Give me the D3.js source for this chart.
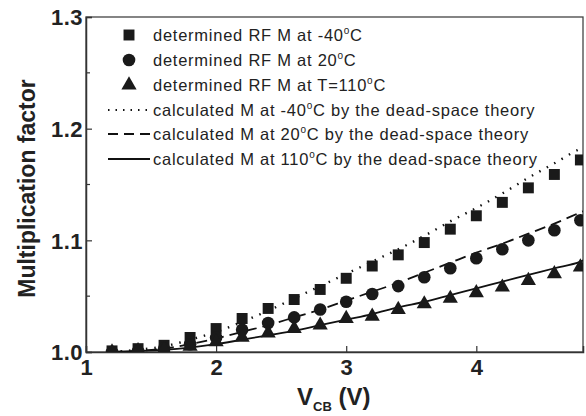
<!DOCTYPE html>
<html>
<head>
<meta charset="utf-8">
<script src="https://cdn.jsdelivr.net/npm/d3@7"></script>
<style>
  body { margin: 0; background: #fff; }
  text { font-family: "Liberation Sans", Arial, sans-serif; fill: #222; }
</style>
</head>
<body>
<div id="chart"></div>
<script>
const width = 586
const height = 416
const margin = { top: 17, bottom: 64, left: 86, right: 3 }

// datos
const vcb = [1.2, 1.4, 1.6, 1.8, 2.0, 2.2, 2.4, 2.6, 2.8, 3.0, 3.2, 3.4, 3.6, 3.8, 4.0, 4.2, 4.4, 4.6, 4.8]
const mMinus40 = [1.001, 1.003, 1.006, 1.013, 1.021, 1.030, 1.039, 1.047, 1.056, 1.066, 1.077, 1.087, 1.098, 1.110, 1.122, 1.134, 1.147, 1.159, 1.172]
const m20 = [1.000, 1.001, 1.003, 1.007, 1.013, 1.020, 1.026, 1.031, 1.038, 1.045, 1.052, 1.059, 1.067, 1.075, 1.084, 1.092, 1.100, 1.109, 1.118]
const m110 = [1.000, 1.001, 1.002, 1.005, 1.009, 1.013, 1.017, 1.021, 1.024, 1.030, 1.032, 1.038, 1.043, 1.048, 1.053, 1.058, 1.064, 1.070, 1.076]

const vcbCalc = [1.2, 1.4, 1.6, 1.8, 2.0, 2.2, 2.4, 2.6, 2.8, 3.0, 3.2, 3.4, 3.6, 3.8, 4.0, 4.2, 4.4, 4.6, 4.8, 4.82]
const calcMinus40 = [1.000, 1.002, 1.005, 1.011, 1.018, 1.027, 1.037, 1.048, 1.059, 1.070, 1.081, 1.092, 1.104, 1.117, 1.129, 1.142, 1.156, 1.169, 1.182, 1.183]
const calc20 = [1.000, 1.001, 1.003, 1.007, 1.012, 1.018, 1.024, 1.031, 1.038, 1.046, 1.054, 1.062, 1.071, 1.080, 1.089, 1.097, 1.106, 1.115, 1.125, 1.126]
const calc110 = [1.000, 1.001, 1.002, 1.004, 1.007, 1.011, 1.015, 1.019, 1.024, 1.029, 1.034, 1.040, 1.045, 1.051, 1.057, 1.063, 1.069, 1.075, 1.081, 1.082]

const xTicks = [1, 2, 3, 4]
const yTicks = [1.0, 1.1, 1.2, 1.3]
const yMinor = [1.05, 1.15, 1.25]

const legendLabels = [
  "determined RF M at -40|C",
  "determined RF M at 20|C",
  "determined RF M at T=110|C",
  "calculated M at -40|C by the dead-space theory",
  "calculated M at 20|C by the dead-space theory",
  "calculated M at 110|C by the dead-space theory"
]

const svg = d3.select("#chart").append("svg")
  .attr("width", width)
  .attr("height", height)

const w = width - margin.left - margin.right
const h = height - margin.top - margin.bottom

const x = d3.scaleLinear().domain([1, 4.82]).range([0, w])
const y = d3.scaleLinear().domain([1.0, 1.3]).range([h, 0])

const g = svg.append("g").attr("transform", `translate(${margin.left}, ${margin.top})`)

svg.append("defs").append("clipPath").attr("id", "clip")
  .append("rect").attr("width", w).attr("height", h)

// caja
g.append("rect").attr("width", w).attr("height", h)
  .attr("fill", "none").attr("stroke", "#444").attr("stroke-width", 1.3)

// ejes
const xAxis = d3.axisBottom(x).tickValues(xTicks).tickSize(-6).tickPadding(7).tickFormat(d3.format("d"))
const yAxis = d3.axisLeft(y).tickValues(yTicks).tickSize(-6).tickPadding(4).tickFormat(d3.format(".1f"))

const xg = g.append("g").attr("transform", `translate(0, ${h})`).call(xAxis)
const yg = g.append("g").call(yAxis)
for (const ax of [xg, yg]) {
  ax.select(".domain").attr("stroke", "#333").attr("stroke-width", 1.5)
  ax.selectAll(".tick line").attr("stroke", "#333").attr("stroke-width", 1.2)
  ax.selectAll(".tick text").attr("font-size", 22).attr("font-weight", "bold").attr("fill", "#222")
}
xg.selectAll(".tick text").attr("dy", "0.72em")
yg.selectAll(".tick text").attr("dy", "0.35em").attr("x", -3).attr("letter-spacing", 0.5)

g.append("g").selectAll("line").data(yMinor).enter().append("line")
  .attr("x1", 0).attr("x2", 4)
  .attr("y1", d => y(d)).attr("y2", d => y(d))
  .attr("stroke", "#333").attr("stroke-width", 1.2)

// titulos
svg.append("text")
  .attr("transform", `translate(35, ${margin.top + h / 2 + 4}) rotate(-90)`)
  .attr("text-anchor", "middle")
  .attr("font-size", 23).attr("font-weight", "bold")
  .text("Multiplication factor")

const xt = svg.append("text")
  .attr("x", 297).attr("y", 405)
  .attr("font-size", 24).attr("font-weight", "bold")
xt.append("tspan").text("V")
xt.append("tspan").attr("font-size", 13).attr("dy", 6).text("CB")
xt.append("tspan").attr("dy", -6).text(" (V)")

// curvas calculadas
const plot = g.append("g").attr("clip-path", "url(#clip)")
const line = d3.line().x(d => x(d[0])).y(d => y(d[1])).curve(d3.curveMonotoneX)
const calcSeries = [
  { vals: calcMinus40, dash: "1.5,7", sw: 2.4 },
  { vals: calc20, dash: "11,6", sw: 1.8 },
  { vals: calc110, dash: null, sw: 1.8 }
]
calcSeries.forEach(s => {
  plot.append("path")
    .datum(vcbCalc.map((v, i) => [v, s.vals[i]]))
    .attr("d", line)
    .attr("fill", "none")
    .attr("stroke", "#111")
    .attr("stroke-width", s.sw)
    .attr("stroke-dasharray", s.dash)
})

// simbolos
const symSquare = d3.symbol().type(d3.symbolSquare).size(120)
const symCircle = d3.symbol().type(d3.symbolCircle).size(125)
const symTriangle = d3.symbol().type(d3.symbolTriangle).size(100)
const dataSeries = [
  { vals: mMinus40, sym: symSquare },
  { vals: m20, sym: symCircle },
  { vals: m110, sym: symTriangle }
]
dataSeries.forEach(s => {
  plot.append("g").selectAll("path").data(vcb.map((v, i) => [v, s.vals[i]])).enter()
    .append("path")
    .attr("d", s.sym)
    .attr("fill", "#1a1a1a")
    .attr("transform", d => `translate(${x(d[0])}, ${y(d[1])})`)
})

// leyenda
const legend = svg.append("g")
const rowY = [35, 60, 85, 110, 134, 159]
const legendSyms = [symSquare, symCircle, symTriangle]
const legendDash = ["1.5,6", "10,6", null]
legendLabels.forEach((lab, i) => {
  const yy = rowY[i]
  if (i < 3) {
    legend.append("path").attr("d", legendSyms[i]).attr("fill", "#1a1a1a")
      .attr("transform", `translate(129, ${yy})`)
  } else {
    legend.append("line").attr("x1", 108).attr("x2", 150).attr("y1", yy).attr("y2", yy)
      .attr("stroke", "#111").attr("stroke-width", i === 3 ? 2.2 : 1.8)
      .attr("stroke-dasharray", legendDash[i - 3])
  }
  const t = legend.append("text").attr("x", 153).attr("y", yy + 5.5)
    .attr("font-size", 16.5).attr("letter-spacing", 0.75)
  const parts = lab.split("|")
  t.append("tspan").text(parts[0])
  t.append("tspan").attr("font-size", 10).attr("dy", -7).text("o")
  t.append("tspan").attr("dy", 7).text(parts[1])
})
</script>
</body>
</html>
